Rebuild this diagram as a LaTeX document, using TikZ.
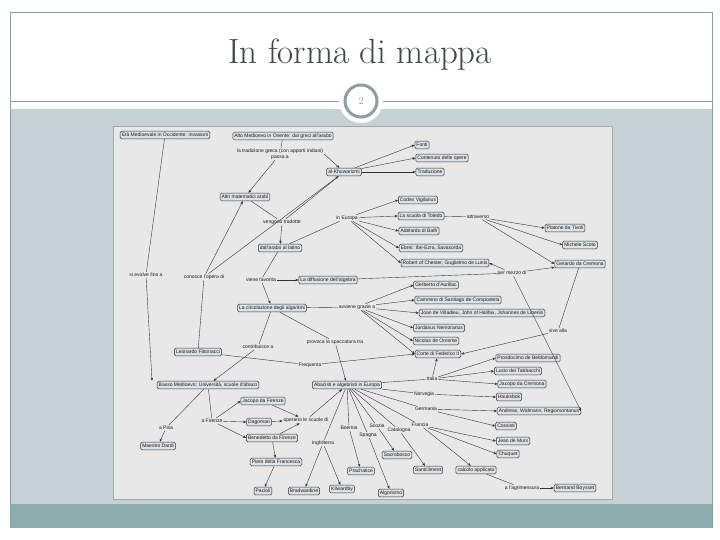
\documentclass[tikz,border=0pt]{standalone}
\usepackage{fontspec}
\setsansfont{Liberation Sans}
\usetikzlibrary{arrows.meta}
\definecolor{slidebg}{HTML}{C6D1D6}
\definecolor{barteal}{HTML}{8BADAD}
\definecolor{mapbg}{HTML}{E8E8E8}
\definecolor{boxfill}{HTML}{DCE2E6}
\definecolor{ringgrey}{HTML}{8C9E9E}
\definecolor{titlegrey}{HTML}{3E4A4A}
\begin{document}
\begin{tikzpicture}[x=1pt, y=-1pt,
  concept/.style={draw=black!80, fill=boxfill, rounded corners=1.5pt, inner sep=1.6pt, line width=0.5pt,
    text height=3.7pt, text depth=1pt, font=\fontsize{5}{6}\selectfont\sffamily, text=black!90},
  link/.style={inner sep=0.8pt, font=\fontsize{5}{6}\selectfont\sffamily, text=black!90},
  conn/.style={draw=black!80, line width=0.4pt},
  arr/.style={conn, -{Stealth[length=3.2pt, width=2.6pt]}}]
\useasboundingbox (0,0) rectangle (720,540);
% slide
\fill[white] (0,0) rectangle (720,540);
\fill[slidebg] (10,109) rectangle (712,504);
\fill[barteal] (10,504) rectangle (712,528);
\draw[ringgrey, line width=0.5pt] (10,528) -- (10,12) -- (712,12) -- (712,528);
\draw[ringgrey, line width=0.8pt] (10,101) -- (712,101);
\node[text=titlegrey, font=\fontsize{35}{40}\selectfont] (title) at (360,55) {In forma di mappa};
\fill[white] (361,101) circle (22);
\draw[ringgrey, line width=3pt, fill=white] (361,101) circle (16);
\node[text=ringgrey, font=\fontsize{10}{12}\selectfont] (pagenum) at (361,101) {2};
% map
\draw[fill=mapbg, draw=black!35, line width=0.4pt] (113,126) rectangle (612,499);

% concepts
\node[concept] (cEta) at (165,135) {Età Medioevale in Occidente: invasioni};
\node[concept] (cAlto) at (283,136) {Alto Medioevo in Oriente: dai greci all'arabo};
\node[concept] (cKhw) at (344,172) {al-Khuwarizmi};
\node[concept] (cFonti) at (422,145) {Fonti};
\node[concept] (cCont) at (442,158) {Contenuto delle opere};
\node[concept] (cTrad) at (430,172) {Traduzione};
\node[concept] (cAltri) at (245,197) {Altri matematici arabi};
\node[concept] (cCodex) at (418,200) {Codex Vigilanus};
\node[concept] (cToledo) at (421,216) {La scuola di Toledo};
\node[concept] (cAdel) at (419,231) {Adelardo di Bath};
\node[concept] (cPlat) at (565,228) {Platone da Tivoli};
\node[concept] (cEbrei) at (431,248) {Ebrei: Ibn-Ezra, Savasorda};
\node[concept] (cScoto) at (580,245) {Michele Scoto};
\node[concept] (cLatino) at (280,248) {dall'arabo al latino};
\node[concept] (cRobert) at (445,263) {Robert of Chester, Guglielmo de Lunis};
\node[concept] (cGerardo) at (580,264) {Gerardo da Cremona};
\node[concept] (cDiff) at (328,280) {La diffusione dell'algebra};
\node[concept] (cGerb) at (436,285) {Gerberto d'Aurillac};
\node[concept] (cCamm) at (458,300) {Cammino di Santiago de Compostela};
\node[concept] (cCirc) at (272,308) {La circolazione degli algoritmi};
\node[concept] (cJoan) at (482,313) {Joan de Villadieu, John of Halifax, Johannes de Lineriis};
\node[concept] (cJord) at (439,328) {Jordanus Nemorarius};
\node[concept] (cNic) at (436,341) {Nicolas de Oresme};
\node[concept] (cFib) at (198,352) {Leonardo Fibonacci};
\node[concept] (cCorte) at (438,354) {Corte di Federico II};
\node[concept] (cProsd) at (528,358) {Prosdocimo de Beldomandi};
\node[concept] (cLucio) at (518,371) {Lucio dei Tabbacchi};
\node[concept] (cBasso) at (208,385) {Basso Medioevo: Università, scuole d'abaco};
\node[concept] (cAbac) at (347,385) {Abacisti e algebristi in Europa};
\node[concept] (cJacC) at (522,384) {Jacopo da Cremona};
\node[concept] (cHauk) at (509,397) {Hauksbok};
\node[concept] (cJacF) at (263,401) {Jacopo da Firenze};
\node[concept] (cAndr) at (539,411) {Andreas, Widmann, Regiomontanus};
\node[concept] (cDago) at (259,422) {Dagomari};
\node[concept] (cCoss) at (506,426) {Cossisti};
\node[concept] (cBene) at (272,438) {Benedetto da Firenze};
\node[concept] (cJean) at (513,441) {Jean de Murs};
\node[concept] (cDardi) at (158,446) {Maestro Dardi};
\node[concept] (cChuq) at (508,454) {Chuquet};
\node[concept] (cSacro) at (397,455) {Sacrobosco};
\node[concept] (cPiero) at (276,462) {Piero della Francesca};
\node[concept] (cPrach) at (361,471) {Prachatice};
\node[concept] (cSantc) at (428,470) {Santcliment};
\node[concept] (cCalc) at (476,470) {calcolo applicato};
\node[concept] (cPac) at (263,491) {Pacioli};
\node[concept] (cBrad) at (304,491) {Bradwardine};
\node[concept] (cKilw) at (342,489) {Kilwardby};
\node[concept] (cAlgo) at (391,493) {Algorismo};
\node[concept] (cBoys) at (575,488) {Bertrand Boysset};

% linking phrases
\node[link, align=center] (lTrad) at (280,154) {la tradizione greca (con apporti indiani)\\passa a};
\node[link] (lTradotte) at (282,222) {vengono tradotte};
\node[link] (lEur) at (347,218) {in Europa};
\node[link] (lAttr) at (478,217) {attraverso};
\node[link] (lEvolve) at (146,275) {si evolve fino a};
\node[link] (lConosce) at (204,277) {conosce l'opera di};
\node[link] (lFavor) at (261,280) {viene favorita};
\node[link] (lMezzo) at (512,273) {per mezzo di};
\node[link] (lGrazie) at (357,307) {avviene grazie a};
\node[link] (lVive) at (558,331) {vive alla};
\node[link] (lContrib) at (258,347) {contribuisce a};
\node[link] (lSpacc) at (335,342) {provoca la spaccatura tra};
\node[link] (lFreq) at (310,365) {Frequenta};
\node[link] (lPisa) at (166,428) {a Pisa};
\node[link] (lFirenze) at (212,421) {a Firenze};
\node[link] (lScuole) at (306,420) {operano le scuole di};
\node[link] (lIngh) at (323,443) {Inghilterra};
\node[link] (lBoemia) at (349,428) {Boemia};
\node[link] (lSpagna) at (368,435) {Spagna};
\node[link] (lScozia) at (377,426) {Scozia};
\node[link] (lCatal) at (399,430) {Catalogna};
\node[link] (lFrancia) at (420,425) {Francia};
\node[link] (lItalia) at (432,379) {Italia};
\node[link] (lNorv) at (424,394) {Norvegia};
\node[link] (lGerm) at (426,409) {Germania};
\node[link] (lAgri) at (522,488) {a l'agrimensura};

% connections, top
\draw[conn] (cEta) -- (lEvolve);
\draw[arr] (lEvolve) -- (cBasso.north west -| 152,0);
\draw[conn] (cAlto) -- (lTrad);
\draw[arr] (lTrad) -- (cAltri);
\draw[arr] (lTrad.east) -- (cKhw);
\draw[arr] (cKhw) -- (cFonti.west);
\draw[arr] (cKhw) -- (cCont.west);
\draw[arr] (cKhw) -- (cTrad.west);
\draw[conn] (cAltri) -- (lTradotte);
\draw[conn] (cKhw) -- (lTradotte);
\draw[arr] (lTradotte) -- (cLatino);
\draw[conn] (cLatino) -- (lEur);
\draw[arr] (lEur) -- (cCodex.west);
\draw[arr] (lEur) -- (cToledo.west);
\draw[arr] (lEur) -- (cAdel.west);
\draw[arr] (lEur) -- (cEbrei.west);
\draw[arr] (lEur) -- (cRobert.west);
\draw[conn] (cToledo) -- (lAttr);
\draw[arr] (lAttr) -- (cPlat.west);
\draw[arr] (lAttr) -- (cScoto.west);
\draw[arr] (lAttr) -- (cGerardo.west);
% connections, middle
\draw[conn] (cLatino) -- (lFavor);
\draw[arr] (lFavor) -- (cDiff);
\draw[arr] (lFavor) -- (cCirc);
\draw[conn] (cDiff) -- (lMezzo);
\draw[arr] (lMezzo) -- (cGerardo);
\draw[arr] (lMezzo) -- (cRobert.east);
\draw[arr] (lMezzo) -- (cAndr.east);
\draw[conn] (cGerardo) -- (lVive);
\draw[arr] (lVive) -- (cCorte.east);
\draw[conn] (cCirc) -- (lGrazie);
\draw[arr] (lGrazie) -- (cGerb.west);
\draw[arr] (lGrazie) -- (cCamm.west);
\draw[arr] (lGrazie) -- (cJoan.west);
\draw[arr] (lGrazie) -- (cJord.west);
\draw[arr] (lGrazie) -- (cNic.west);
\draw[arr] (lGrazie) -- (cCorte.west);
\draw[conn] (cCirc) -- (lContrib);
\draw[arr] (lContrib) -- (cBasso);
\draw[conn] (cCirc) -- (lSpacc);
\draw[arr] (lSpacc) -- (cAbac);
\draw[conn] (cFib) -- (lConosce);
\draw[arr] (lConosce) -- (cAltri);
\draw[arr] (lConosce) -- (cKhw);
\draw[conn] (cFib) -- (lFreq);
\draw[arr] (lFreq) -- (cCorte.west);
% connections, bottom
\draw[conn] (cBasso) -- (lPisa);
\draw[arr] (lPisa) -- (cDardi);
\draw[conn] (cBasso) -- (lFirenze);
\draw[arr] (lFirenze) -- (cJacF.west);
\draw[arr] (lFirenze) -- (cDago.west);
\draw[arr] (lFirenze) -- (cBene.west);
\draw[arr] (cJacF) -- (lScuole);
\draw[arr] (cDago) -- (lScuole);
\draw[arr] (cBene) -- (lScuole);
\draw[arr] (lScuole) -- (cAbac);
\draw[arr] (cBene) -- (cPiero);
\draw[arr] (cPiero) -- (cPac);
\draw[conn] (cAbac) -- (lIngh);
\draw[arr] (lIngh) -- (cBrad);
\draw[arr] (lIngh) -- (cKilw);
\draw[conn] (cAbac) -- (lBoemia);
\draw[arr] (lBoemia) -- (cPrach);
\draw[conn] (cAbac) -- (lSpagna);
\draw[arr] (lSpagna) -- (cAlgo);
\draw[conn] (cAbac) -- (lScozia);
\draw[arr] (lScozia) -- (cSacro);
\draw[conn] (cAbac) -- (lCatal);
\draw[arr] (lCatal) -- (cSantc);
\draw[conn] (cAbac) -- (lFrancia);
\draw[arr] (lFrancia) -- (cJean.west);
\draw[arr] (lFrancia) -- (cChuq.west);
\draw[arr] (lFrancia) -- (cCalc);
\draw[conn] (cCalc) -- (lAgri);
\draw[arr] (lAgri) -- (cBoys);
\draw[conn] (cAbac) -- (lGerm);
\draw[arr] (lGerm) -- (cAndr.west);
\draw[arr] (lGerm) -- (cCoss.west);
\draw[conn] (cAbac) -- (lNorv);
\draw[arr] (lNorv) -- (cHauk.west);
\draw[conn] (cAbac) -- (lItalia);
\draw[arr] (lItalia) -- (cCorte);
\draw[arr] (lItalia) -- (cProsd.west);
\draw[arr] (lItalia) -- (cLucio.west);
\draw[arr] (lItalia) -- (cJacC.west);
\end{tikzpicture}
\end{document}
